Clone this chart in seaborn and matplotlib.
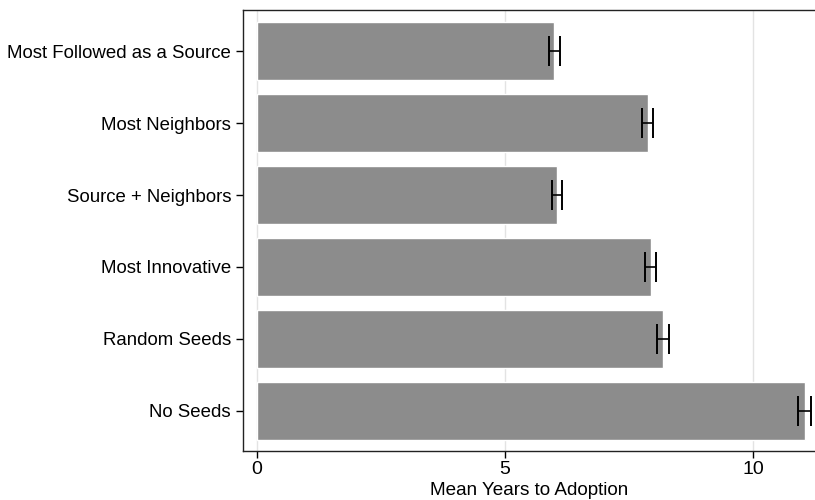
import matplotlib
matplotlib.use("Agg")
import matplotlib.pyplot as plt
import seaborn as sns

categories = ["Most Followed as a Source", "Most Neighbors", "Source + Neighbors",
              "Most Innovative", "Random Seeds", "No Seeds"]
mean_years = [6.0, 7.88, 6.05, 7.94, 8.19, 11.04]
ci_half = [0.12, 0.11, 0.11, 0.11, 0.12, 0.13]
x_ticks = [0, 5, 10]

sns.set_style("white")
plt.rcParams["font.family"] = ["Liberation Sans", "DejaVu Sans"]

fig = plt.figure(figsize=(8.15, 5), dpi=100)
ax = fig.add_axes([0.298, 0.098, 0.702, 0.882])

ax.grid(axis="x", color="#e3e3e3", linewidth=1)
ax.set_axisbelow(True)
sns.barplot(x=mean_years, y=categories, color="#8c8c8c", saturation=1,
            width=0.8, errorbar=None, ax=ax)
ax.errorbar(mean_years, range(len(categories)), xerr=ci_half, fmt="none",
            ecolor="black", elinewidth=1.2, capsize=10.5, capthick=1.4)

ax.set_xlim(-0.28, 11.25)
ax.set_ylim(5.556, -0.57)
ax.set_xticks(x_ticks)
ax.set_xticklabels([str(t) for t in x_ticks], fontsize=14)
ax.tick_params(axis="y", labelsize=13.4, length=5, width=1, left=True,
               direction="out", colors="black")
ax.tick_params(axis="x", length=5, width=1, bottom=True, direction="out", pad=2,
               colors="black")
ax.set_xlabel("Mean Years to Adoption", fontsize=13.6, labelpad=3, color="black")
ax.set_ylabel("")
for side in ["left", "bottom", "top"]:
    ax.spines[side].set_color("#222222")
    ax.spines[side].set_linewidth(1)
ax.spines["right"].set_visible(False)

plt.savefig("out.png", dpi=100)
